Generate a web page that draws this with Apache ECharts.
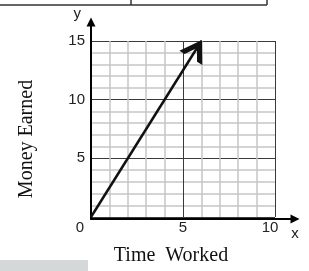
<!DOCTYPE html>
<html>
<head>
<meta charset="utf-8">
<script src="https://cdn.jsdelivr.net/npm/echarts@6/dist/echarts.min.js"></script>
<style>
  html, body { margin: 0; padding: 0; background: #fff; }
  #main { width: 309px; height: 271px; }
</style>
</head>
<body>
<div id="main"></div>
<script>
    // data
    var timeWorked = [0, 6];
    var moneyEarned = [0, 15];
    var xTicks = [0, 5, 10];
    var yTicks = [0, 5, 10, 15];

    var tickFont = 'Liberation Sans';
    var nameFont = 'Liberation Serif';

    var lineData = timeWorked.map(function (t, i) {
        var item = {value: [t, moneyEarned[i]]};
        if (i === timeWorked.length - 1) {
            // open chevron arrow head at the end of the line
            item.symbol = 'path://M0,20 L12,0 L24,20 L18.5,20 L12,9 L5.5,20 Z';
            item.symbolSize = [27, 21];
            item.symbolRotate = -32;
            item.symbolOffset = [-5, 8];
            item.itemStyle = {color: '#111'};
        }
        return item;
    });

    (function (chart) {
        chart.setOption({
            animation: false,
            grid: [
                {left: 91, top: 41, right: 34, bottom: 52},
                {left: 91, top: 22, right: 14, bottom: 52}
            ],
            xAxis: [
                {
                    gridIndex: 0, type: 'value', min: xTicks[0], max: xTicks[xTicks.length - 1], interval: 5,
                    name: 'Time  Worked', nameLocation: 'middle', nameGap: 29,
                    nameTextStyle: {fontFamily: nameFont, fontSize: 20, color: '#111', padding: [0, 24, 0, 0]},
                    axisLine: {show: false},
                    axisTick: {show: false},
                    axisLabel: {
                        margin: 3, fontFamily: tickFont, fontSize: 15, color: '#222',
                        formatter: function (v) {
                            if (v === 0) return '{z|0}';
                            if (v === 10) return '{t|10}';
                            return v;
                        },
                        rich: {
                            z: {fontFamily: tickFont, fontSize: 15, color: '#222', padding: [0, 22, 0, 0]},
                            t: {fontFamily: tickFont, fontSize: 15, color: '#222', padding: [0, 10, 0, 0]}
                        }
                    },
                    splitLine: {show: true, lineStyle: {color: '#3a3a3a', width: 1}},
                    minorTick: {show: false, splitNumber: 5},
                    minorSplitLine: {show: true, lineStyle: {color: '#c6c6c6', width: 1.5}}
                },
                {
                    gridIndex: 1, type: 'value', min: 0, max: 1,
                    name: 'x', nameLocation: 'end', nameGap: 0,
                    nameTextStyle: {fontFamily: tickFont, fontSize: 15, color: '#222', align: 'center', verticalAlign: 'top', padding: [7, 0, 0, 0]},
                    axisLine: {show: true, symbol: ['none', 'triangle'], symbolSize: [9, 9], lineStyle: {color: '#000', width: 2}},
                    axisTick: {show: false}, axisLabel: {show: false}, splitLine: {show: false}
                }
            ],
            yAxis: [
                {
                    gridIndex: 0, type: 'value', min: yTicks[0], max: yTicks[yTicks.length - 1], interval: 5,
                    name: 'Money Earned', nameLocation: 'middle', nameGap: 54,
                    nameTextStyle: {fontFamily: nameFont, fontSize: 20, color: '#111', padding: [0, 20, 0, 0]},
                    axisLine: {show: false},
                    axisTick: {show: false},
                    axisLabel: {showMinLabel: false, margin: 6, fontFamily: tickFont, fontSize: 15, color: '#222'},
                    splitLine: {show: true, lineStyle: {color: '#3a3a3a', width: 1}},
                    minorTick: {show: false, splitNumber: 5},
                    minorSplitLine: {show: true, lineStyle: {color: '#c6c6c6', width: 1.5}}
                },
                {
                    gridIndex: 1, type: 'value', min: 0, max: 1,
                    name: 'y', nameLocation: 'end', nameGap: 1,
                    nameTextStyle: {fontFamily: tickFont, fontSize: 15, color: '#222', align: 'right', verticalAlign: 'bottom', padding: [0, 10, 0, 0]},
                    axisLine: {show: true, symbol: ['none', 'triangle'], symbolSize: [9, 9], lineStyle: {color: '#000', width: 2}},
                    axisTick: {show: false}, axisLabel: {show: false}, splitLine: {show: false}
                }
            ],
            graphic: [
                {type: 'line', shape: {x1: 0, y1: 5, x2: 267, y2: 5}, style: {stroke: '#333', lineWidth: 1.5}},
                {type: 'line', shape: {x1: 131, y1: 0, x2: 131, y2: 5}, style: {stroke: '#333', lineWidth: 1.5}},
                {type: 'line', shape: {x1: 267, y1: 0, x2: 267, y2: 5}, style: {stroke: '#333', lineWidth: 1.5}},
                {type: 'rect', shape: {x: 0, y: 260, width: 88, height: 11}, style: {fill: '#d5d8d9'}}
            ],
            series: [
                {
                    type: 'line',
                    xAxisIndex: 0, yAxisIndex: 0,
                    data: lineData,
                    symbol: 'none',
                    showSymbol: true,
                    lineStyle: {color: '#111', width: 2.5},
                    itemStyle: {color: '#111'},
                    z: 5
                }
            ]
        });
    })(echarts.init(document.getElementById('main'), null, {renderer: 'canvas'}));
</script>
</body>
</html>
